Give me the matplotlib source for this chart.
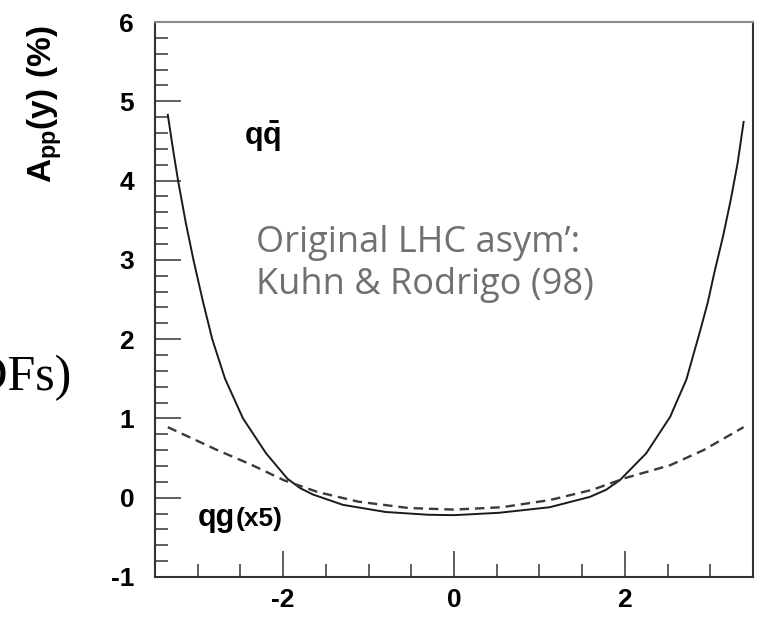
import matplotlib
matplotlib.use('Agg')
import matplotlib.pyplot as plt
from matplotlib.ticker import MultipleLocator

plt.rcParams['font.family'] = ['Liberation Sans', 'DejaVu Sans']
plt.rcParams['mathtext.fontset'] = 'custom'
plt.rcParams['mathtext.bf'] = 'Liberation Sans:bold'
plt.rcParams['mathtext.rm'] = 'Liberation Sans'
plt.rcParams['axes.unicode_minus'] = False

# q qbar asymmetry (solid line)
y_qq = [-3.35, -3.29, -3.23, -3.14, -3.05, -2.94, -2.83, -2.68, -2.47, -2.2, -1.95, -1.8, -1.65,
        -1.3, -0.8, -0.3, 0.0, 0.53, 1.12, 1.59, 1.78, 1.94, 2.25, 2.53, 2.72, 2.88, 2.97, 3.05,
        3.15, 3.24, 3.32, 3.39]
a_qq = [4.83, 4.4, 4.0, 3.47, 3.0, 2.48, 2.0, 1.5, 1.0, 0.56, 0.24, 0.12, 0.04,
        -0.09, -0.18, -0.215, -0.22, -0.19, -0.12, 0.01, 0.1, 0.22, 0.56, 1.02, 1.49, 2.1, 2.46, 2.85,
        3.3, 3.76, 4.22, 4.74]

# qg asymmetry x5 (dashed line)
y_qg = [-3.35, -2.77, -2.38, -1.99, -1.59, -1.12, -0.53, 0.0, 0.56, 1.12, 1.62, 2.01, 2.53, 2.92, 3.39]
a_qg = [0.89, 0.6, 0.42, 0.22, 0.07, -0.05, -0.13, -0.15, -0.12, -0.03, 0.10, 0.25, 0.41, 0.6, 0.89]

x_ticks = [-2, 0, 2]
y_ticks = [-1, 0, 1, 2, 3, 4, 5, 6]

fig = plt.figure(figsize=(7.6, 6.2), dpi=100)
ax = fig.add_axes([155 / 760, 1 - 577 / 620, (753 - 155) / 760, (577 - 22) / 620])

ax.plot(y_qq, a_qq, color='#1a1a1a', lw=1.4)
ax.plot(y_qg, a_qg, color='#3a3a3a', lw=1.7, linestyle=(0, (4, 2.5)))

ax.set_xlim(-3.5, 3.5)
ax.set_ylim(-1, 6)
ax.set_xticks(x_ticks)
ax.set_yticks(y_ticks)
ax.xaxis.set_minor_locator(MultipleLocator(0.5))
ax.yaxis.set_minor_locator(MultipleLocator(0.2))
ax.tick_params(which='both', direction='in', top=False, right=False, color='#333333', width=1.1)
ax.tick_params(which='major', length=19)
ax.tick_params(which='minor', length=9.5)
ax.tick_params(axis='y', pad=15, labelsize=19)
ax.tick_params(axis='x', pad=8, labelsize=19)
for lab in ax.get_xticklabels() + ax.get_yticklabels():
    lab.set_fontweight('bold')

for s in ax.spines.values():
    s.set_linewidth(1.5)
    s.set_color('#333333')
ax.spines['top'].set_color('#8a8a8a')

# labels inside the frame
ax.text(-2.24, 4.55, r'$\mathbf{q\bar{q}}$', fontsize=22, ha='center', va='center')
ax.text(-3.0, -0.36, 'qg', fontsize=22, fontweight='bold', ha='left', va='baseline')
ax.annotate('(x5)', xy=(-3.0, -0.36), xytext=(27, 0), textcoords='offset points',
            fontsize=19, fontweight='bold', ha='left', va='baseline')

ax.text(-2.32, 2.95, 'Original LHC asym\u2019:\nKuhn & Rodrigo (98)', family=['Open Sans', 'DejaVu Sans'],
        fontsize=26, color='#707070', ha='left', va='center', linespacing=1.2)

fig.text(45 / 760, 1 - 25 / 620, r'$\mathbf{A_{pp}(y)\ (\%)}$', fontsize=24, rotation=90,
         ha='center', va='top')

# left part of the slide text, cut by the picture edge
fig.text(72 / 760, 1 - 378 / 620, '(PDFs)', family=['Liberation Serif', 'DejaVu Serif'],
         fontsize=36, ha='right', va='center')

fig.savefig('out.png', dpi=100)
